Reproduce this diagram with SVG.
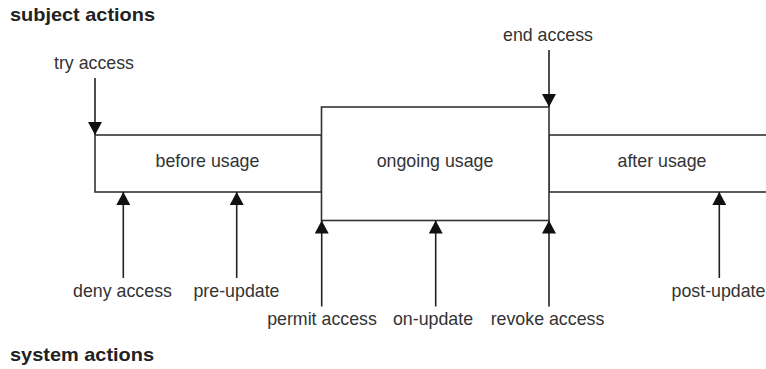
<svg xmlns="http://www.w3.org/2000/svg" width="766" height="369" viewBox="0 0 766 369">
<defs>
<marker id="ah" markerUnits="userSpaceOnUse" markerWidth="14" markerHeight="14" viewBox="0 0 14 14" refX="13" refY="7" orient="auto">
<path d="M0,0 L13,7 L0,14 Z" fill="#111"/>
</marker>
</defs>
<style>
.box{fill:#fff;stroke:#333;stroke-width:1.6}
.lbl{font-family:"Liberation Sans",Arial,sans-serif;font-size:17.8px;fill:#333;text-anchor:middle}
.hdr{font-family:"Liberation Sans",Arial,sans-serif;font-size:18.5px;font-weight:bold;fill:#222}
.con{stroke:#222;stroke-width:1.6;fill:none;marker-end:url(#ah)}
</style>
<rect width="766" height="369" fill="#fff"/>
<text class="hdr" x="10" y="21" textLength="145" lengthAdjust="spacingAndGlyphs">subject actions</text>
<text class="hdr" x="10" y="361" textLength="144" lengthAdjust="spacingAndGlyphs">system actions</text>
<g id="before-usage">
<rect class="box" x="95" y="135" width="226.5" height="57"/>
<text class="lbl" x="207.5" y="167">before usage</text>
</g>
<g id="after-usage">
<rect class="box" x="549" y="135" width="230" height="57"/>
<text class="lbl" x="662" y="167">after usage</text>
</g>
<g id="ongoing-usage">
<rect class="box" x="321.5" y="107" width="227.5" height="113.5"/>
<text class="lbl" x="435" y="167">ongoing usage</text>
</g>
<g id="connectors">
<line class="con" x1="95" y1="78" x2="95" y2="135"/>
<line class="con" x1="549" y1="50" x2="549" y2="107"/>
<line class="con" x1="123.3" y1="278" x2="123.3" y2="192"/>
<line class="con" x1="236.7" y1="278" x2="236.7" y2="192"/>
<line class="con" x1="321.7" y1="306.5" x2="321.7" y2="220.5"/>
<line class="con" x1="435.7" y1="306.5" x2="435.7" y2="220.5"/>
<line class="con" x1="549" y1="306.5" x2="549" y2="220.5"/>
<line class="con" x1="719.3" y1="278" x2="719.3" y2="192"/>
</g>
<g id="labels">
<text class="lbl" x="94" y="69">try access</text>
<text class="lbl" x="548" y="41">end access</text>
<text class="lbl" x="122.5" y="297">deny access</text>
<text class="lbl" x="236.5" y="297">pre-update</text>
<text class="lbl" x="718.5" y="297">post-update</text>
<text class="lbl" x="322" y="325">permit access</text>
<text class="lbl" x="433" y="325">on-update</text>
<text class="lbl" x="547.5" y="325">revoke access</text>
</g>
</svg>
